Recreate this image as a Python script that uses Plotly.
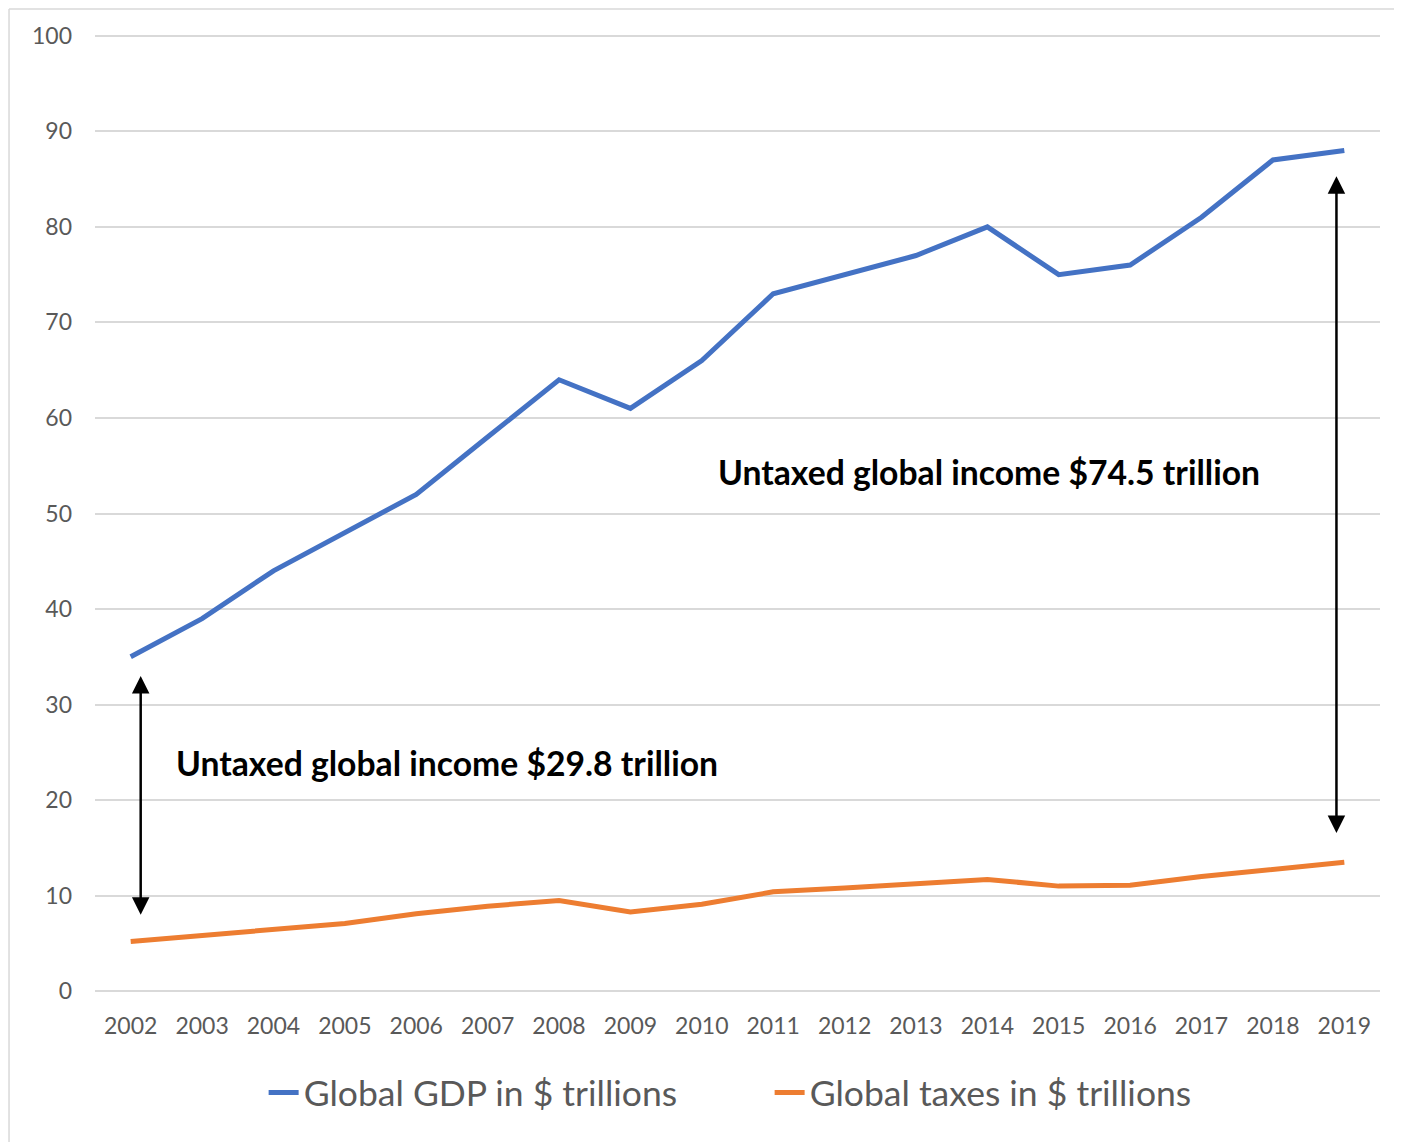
import plotly.graph_objects as go

years = list(range(2002, 2020))
gdp = [35, 39, 44, 48, 52, 58, 64, 61, 66, 73, 75, 77, 80, 75, 76, 81, 87, 88]
taxes = [5.2, 5.8, 6.5, 7.1, 8.1, 8.9, 9.5, 8.3, 9.1, 10.4, 10.8, 11.2, 11.7, 11.0, 11.1, 12.0, 12.7, 13.5]
series_names = ["Global GDP in $ trillions", "Global taxes in $ trillions"]
label_2002 = "Untaxed global income $29.8 trillion"
label_2019 = "Untaxed global income $74.5 trillion"

FONT = "Lato"
GRAY = "#595959"

fig = go.Figure()
fig.add_trace(go.Scatter(x=years, y=gdp, mode="lines", name=series_names[0],
                         line=dict(color="#4472C4", width=5)))
fig.add_trace(go.Scatter(x=years, y=taxes, mode="lines", name=series_names[1],
                         line=dict(color="#ED7D31", width=5)))

def arrow(x, y0, y1):
    fig.add_annotation(x=x, y=y1, ax=x, ay=y0, xref="x", yref="y", axref="x", ayref="y",
                       text="", showarrow=True, arrowhead=2, startarrowhead=2,
                       arrowside="end+start", arrowsize=1.4, startarrowsize=1.4,
                       arrowwidth=2.5, arrowcolor="black", standoff=0, startstandoff=0)

arrow(2002.14, 7.85, 33.0)
arrow(2018.89, 16.4, 85.3)

fig.add_annotation(x=2002.6, y=23.9, xref="x", yref="y", text="<b>" + label_2002 + "</b>",
                   showarrow=False, xanchor="left", yanchor="middle",
                   font=dict(family=FONT, size=33.7, color="black"))
fig.add_annotation(x=2010.2, y=54.3, xref="x", yref="y", text="<b>" + label_2019 + "</b>",
                   showarrow=False, xanchor="left", yanchor="middle",
                   font=dict(family=FONT, size=33.7, color="black"))

# chart-area border (left and top edges visible in the frame)
fig.add_shape(type="line", xref="paper", yref="paper", x0=-0.0669, x1=-0.0669, y0=-0.5, y1=1.0228,
              line=dict(color="#D9D9D9", width=1.5), layer="below")
fig.add_shape(type="line", xref="paper", yref="paper", x0=-0.0669, x1=1.3, y0=1.0228, y1=1.0228,
              line=dict(color="#D9D9D9", width=1.5), layer="below")

fig.update_layout(
    width=1394, height=1134,
    margin=dict(l=87, r=22, t=23, b=146),
    paper_bgcolor="white", plot_bgcolor="white",
    font=dict(family=FONT, color=GRAY),
    showlegend=True,
    legend=dict(orientation="h", x=0.525, xanchor="center", y=-0.1005, yanchor="middle",
                font=dict(family=FONT, size=35.5, color=GRAY), entrywidth=461,
                bgcolor="rgba(0,0,0,0)"),
    xaxis=dict(range=[2001.5, 2019.5], tickmode="array", tickvals=years,
               ticktext=[str(y) for y in years], showgrid=False, zeroline=False,
               showline=False, ticks="", tickfont=dict(size=23, color=GRAY), ticklabelstandoff=14,
               fixedrange=True),
    yaxis=dict(range=[-0.5, 100.5], tickmode="array", tickvals=list(range(0, 101, 10)),
               showgrid=True, gridcolor="#D9D9D9", gridwidth=1.5,
               zeroline=False, showline=False, ticks="", tickfont=dict(size=23, color=GRAY),
               ticklabelstandoff=22, fixedrange=True),
)

fig.write_html("out.html")
